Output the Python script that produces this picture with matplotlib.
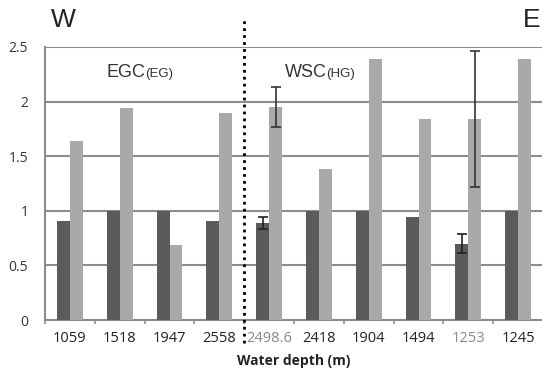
import numpy as np
import matplotlib.pyplot as plt

depths = ['1059', '1518', '1947', '2558', '2498.6', '2418', '1904', '1494', '1253', '1245']
dark_vals = [0.91, 1.0, 1.0, 0.91, 0.89, 1.0, 1.0, 0.94, 0.70, 1.0]
dark_err = [0, 0, 0, 0, 0.055, 0, 0, 0, 0.085, 0]
light_vals = [1.64, 1.94, 0.69, 1.90, 1.95, 1.38, 2.39, 1.84, 1.84, 2.39]
light_err = [0, 0, 0, 0, 0.18, 0, 0, 0, 0.62, 0]
faded = ['2498.6', '1253']

plt.rcParams['font.family'] = ['Open Sans', 'DejaVu Sans']

fig = plt.figure(figsize=(5.42, 3.74), dpi=100)
ax = fig.add_axes([45 / 542, 54 / 374, 498 / 542, 273 / 374])

x = np.arange(len(depths))
w = 0.26
ax.bar(x - w / 2, dark_vals, w, color='#5b5b5b', zorder=3)
ax.bar(x + w / 2, light_vals, w, color='#a9a9a9', zorder=3)

de = np.array(dark_err)
le = np.array(light_err)
m = de > 0
ax.errorbar(x[m] - w / 2, np.array(dark_vals)[m], yerr=de[m], fmt='none',
            ecolor='#222222', elinewidth=1.2, capsize=3.5, capthick=1.2, zorder=4)
m = le > 0
ax.errorbar(x[m] + w / 2, np.array(light_vals)[m], yerr=le[m], fmt='none',
            ecolor='#333333', elinewidth=1.2, capsize=3.5, capthick=1.2, zorder=4)

ax.set_xlim(-0.5, 9.5)
ax.set_ylim(0, 2.5)
ax.set_yticks([0, 0.5, 1, 1.5, 2, 2.5])
ax.set_yticklabels(['0', '0.5', '1', '1.5', '2', '2.5'], fontsize=10, color='#333333')
ax.tick_params(axis='y', length=0, pad=12)

ax.set_xticks(x)
ax.set_xticklabels(depths, fontsize=10.5)
for lab in ax.get_xticklabels():
    lab.set_color('#888888' if lab.get_text() in faded else '#222222')
ax.set_xticks(np.arange(-0.5, 10, 1), minor=True)
ax.tick_params(axis='x', which='major', length=0, pad=8)
ax.tick_params(axis='x', which='minor', length=3, color='#8c8c8c', width=1.2)

ax.grid(axis='y', color='#8c8c8c', linewidth=1.5, zorder=0)
for side in ['top', 'right']:
    ax.spines[side].set_visible(False)
for side in ['left', 'bottom']:
    ax.spines[side].set_color('#8c8c8c')
    ax.spines[side].set_linewidth(1.5)

ax.set_xlabel('Water depth (m)', fontsize=10, fontweight='bold', color='#222222', labelpad=3)
ax.xaxis.set_label_coords(0.5, -0.125)

# boundary between the two current systems
ax.plot([3.5, 3.5], [-0.085, 1.1], transform=ax.get_xaxis_transform(),
        color='black', linestyle=(0, (1, 1.5)), linewidth=2.0, clip_on=False, zorder=5)

ax.text(0.012, 1.1, 'W', transform=ax.transAxes, fontsize=19, family='Liberation Sans',
        color='#222222', ha='left', va='center')
ax.text(0.995, 1.1, 'E', transform=ax.transAxes, fontsize=19, family='Liberation Sans',
        color='#222222', ha='right', va='center')

ax.text(0.74, 2.27, 'EGC', fontsize=13, family='Liberation Sans', color='#333333', va='center')
ax.text(1.52, 2.25, '(EG)', fontsize=9.5, family='Liberation Sans', color='#333333', va='center')
ax.text(4.32, 2.27, 'WSC', fontsize=13, family='Liberation Sans', color='#333333', va='center')
ax.text(5.14, 2.25, '(HG)', fontsize=9.5, family='Liberation Sans', color='#333333', va='center')

fig.savefig('out.png', dpi=100)
